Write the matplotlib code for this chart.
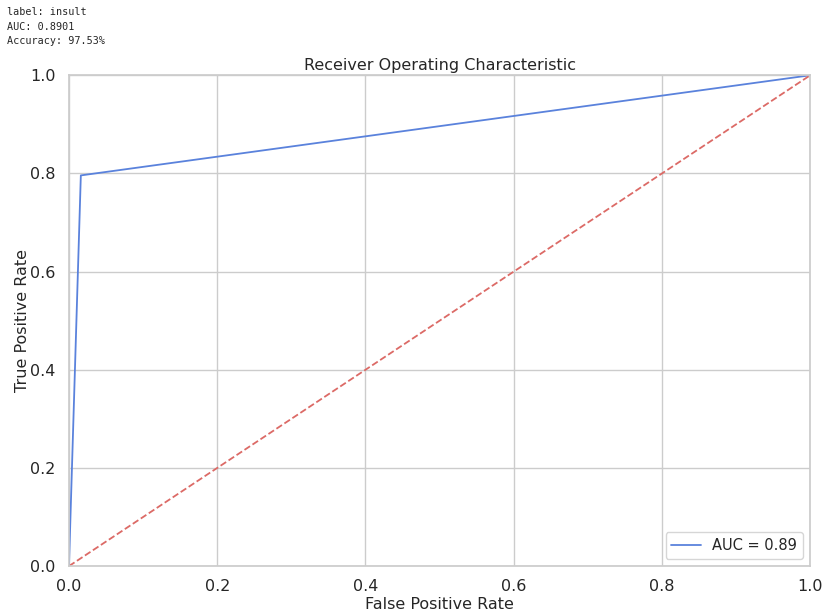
import matplotlib
matplotlib.use("Agg")
import matplotlib.pyplot as plt
import seaborn as sns

# ROC curve points
fpr = [0.0, 0.016, 1.0]
tpr = [0.0, 0.796, 1.0]
diag = [0.0, 1.0]
label_name = "insult"
auc_value = 0.8901
accuracy = 97.53

sns.set_theme(style="whitegrid", palette="muted")
plt.rcParams['font.family'] = ['DejaVu Sans']

fig = plt.figure(figsize=(8.25, 6.12), dpi=100)
ax = fig.add_axes([0.0836, 0.075, 0.8985, 0.802])

ax.plot(fpr, tpr, color="#5a82dc", linewidth=1.3, label="AUC = %0.2f" % auc_value)
ax.plot(diag, diag, color="#dc6a66", linestyle="--", linewidth=1.3)
ax.set_xlim(0, 1)
ax.set_ylim(0, 1)
ax.set_title("Receiver Operating Characteristic", fontsize=11.5, pad=4)
ax.set_xlabel("False Positive Rate", fontsize=11.5, labelpad=2)
ax.set_ylabel("True Positive Rate", fontsize=11.5, labelpad=0)
ax.tick_params(labelsize=11.5)
ax.legend(loc="lower right", fontsize=10.5)

# printed notebook output above the chart
fig.text(0.009, 0.988, "label: %s\nAUC: %.4f\nAccuracy: %.2f%%" % (label_name, auc_value, accuracy),
         family="DejaVu Sans Mono", fontsize=7.3, va="top", ha="left", linespacing=1.55)

fig.savefig("out.png", dpi=100)
